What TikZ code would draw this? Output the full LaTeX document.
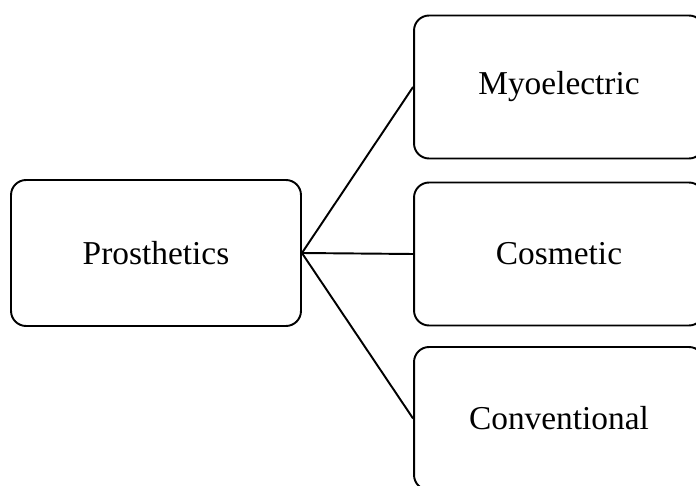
\documentclass[tikz,border=0pt]{standalone}
\usepackage{fontspec}
\setmainfont{Liberation Serif}
\usetikzlibrary{positioning}
\tikzset{
  % kategorier
  catbox/.style={draw=black,line width=1.1pt,rounded corners=0.3cm,fill=white,
                 minimum width=5.8cm,minimum height=2.86cm,inner sep=0pt,
                 font=\fontsize{19}{22}\selectfont},
  rootbox/.style={catbox,minimum height=2.92cm},
  link/.style={draw=black,line width=1.1pt},
}
\begin{document}
\begin{tikzpicture}[x=0.02cm,y=-0.02cm]
  \clip (0,0) rectangle (696,486);
  \useasboundingbox (0,0) rectangle (696,486);
  \node[rootbox] (prost) at (156,253) {Prosthetics};
  \node[catbox] (myo) at (559,87) {Myoelectric};
  \node[catbox] (cosm) at (559,254) {Cosmetic};
  \node[catbox] (conv) at (559,418.5) {Conventional};
  \draw[link] (prost.east) -- (myo.west);
  \draw[link] (prost.east) -- (cosm.west);
  \draw[link] (prost.east) -- (conv.west);
\end{tikzpicture}
\end{document}
